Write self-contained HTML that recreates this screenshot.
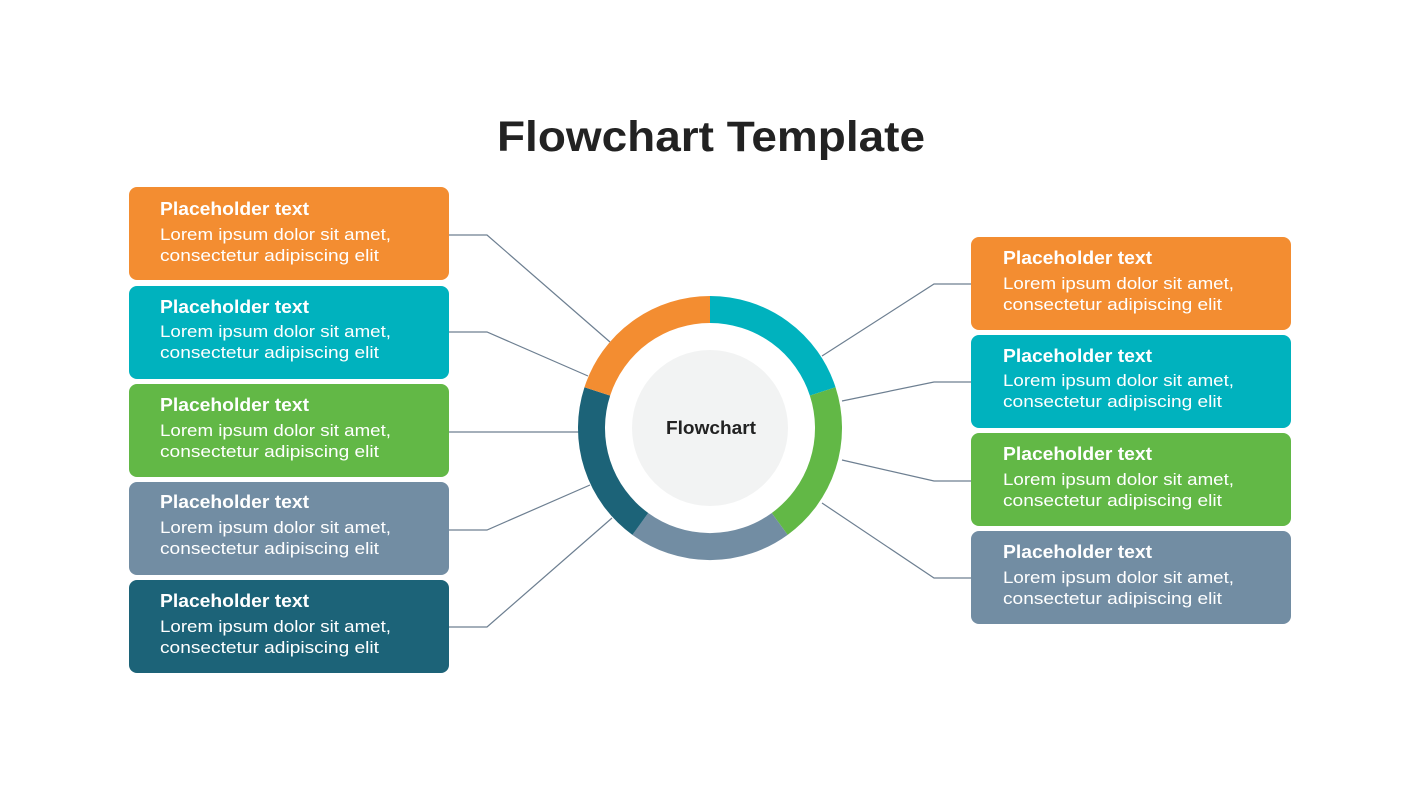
<!DOCTYPE html>
<html><head><meta charset="utf-8"><style>
html,body{margin:0;padding:0;background:#fff;}
svg{display:block;}
text{font-family:"Liberation Sans",sans-serif;}
.t{font-size:18px;font-weight:bold;fill:#fff;}
.b{font-size:17px;fill:#fff;}
</style></head><body>
<svg width="1422" height="800" viewBox="0 0 1422 800" xmlns="http://www.w3.org/2000/svg">
<defs>
<g id="tx">
</g>
</defs>
<rect width="1422" height="800" fill="#fff"/>
<text x="497" y="151" font-size="43" font-weight="bold" fill="#222" textLength="428" lengthAdjust="spacingAndGlyphs">Flowchart Template</text>
<g fill="none" stroke="#6d7f91" stroke-width="1.2">
<polyline points="449,235 487,235 610,342"/>
<polyline points="449,332 487,332 588,376"/>
<polyline points="449,432 580,432"/>
<polyline points="449,530 487,530 590,485"/>
<polyline points="449,627 487,627 612,518"/>
<polyline points="971,284 934,284 822,356"/>
<polyline points="971,382 934,382 842,401"/>
<polyline points="971,481 934,481 842,460"/>
<polyline points="971,578 934,578 822,503"/>
</g>
<g fill="none" stroke-width="27">
<path d="M710,309.5 A118.5,118.5 0 0 1 822.7,391.4" stroke="#00B2BE"/>
<path d="M822.7,391.4 A118.5,118.5 0 0 1 779.7,523.9" stroke="#62B846"/>
<path d="M779.7,523.9 A118.5,118.5 0 0 1 640.3,523.9" stroke="#728DA3"/>
<path d="M640.3,523.9 A118.5,118.5 0 0 1 597.3,391.4" stroke="#1C6378"/>
<path d="M597.3,391.4 A118.5,118.5 0 0 1 710,309.5" stroke="#F38D31"/>
</g>
<circle cx="710" cy="428" r="78" fill="#F2F3F3"/>
<text x="666" y="434" font-size="18" font-weight="bold" fill="#222" textLength="90" lengthAdjust="spacingAndGlyphs">Flowchart</text>
<g>
<rect x="129" y="187" width="320" height="93" rx="8" fill="#F38D31"/>
<text class="t" x="160" y="215" textLength="149" lengthAdjust="spacingAndGlyphs">Placeholder text</text><text class="b" x="160" y="240" textLength="231" lengthAdjust="spacingAndGlyphs">Lorem ipsum dolor sit amet,</text><text class="b" x="160" y="261" textLength="219" lengthAdjust="spacingAndGlyphs">consectetur adipiscing elit</text>
<rect x="129" y="286" width="320" height="93" rx="8" fill="#00B2BE"/>
<text class="t" x="160" y="313" textLength="149" lengthAdjust="spacingAndGlyphs">Placeholder text</text><text class="b" x="160" y="337" textLength="231" lengthAdjust="spacingAndGlyphs">Lorem ipsum dolor sit amet,</text><text class="b" x="160" y="358" textLength="219" lengthAdjust="spacingAndGlyphs">consectetur adipiscing elit</text>
<rect x="129" y="384" width="320" height="93" rx="8" fill="#62B846"/>
<text class="t" x="160" y="411" textLength="149" lengthAdjust="spacingAndGlyphs">Placeholder text</text><text class="b" x="160" y="436" textLength="231" lengthAdjust="spacingAndGlyphs">Lorem ipsum dolor sit amet,</text><text class="b" x="160" y="457" textLength="219" lengthAdjust="spacingAndGlyphs">consectetur adipiscing elit</text>
<rect x="129" y="482" width="320" height="93" rx="8" fill="#728DA3"/>
<text class="t" x="160" y="508" textLength="149" lengthAdjust="spacingAndGlyphs">Placeholder text</text><text class="b" x="160" y="533" textLength="231" lengthAdjust="spacingAndGlyphs">Lorem ipsum dolor sit amet,</text><text class="b" x="160" y="554" textLength="219" lengthAdjust="spacingAndGlyphs">consectetur adipiscing elit</text>
<rect x="129" y="580" width="320" height="93" rx="8" fill="#1C6378"/>
<text class="t" x="160" y="607" textLength="149" lengthAdjust="spacingAndGlyphs">Placeholder text</text><text class="b" x="160" y="632" textLength="231" lengthAdjust="spacingAndGlyphs">Lorem ipsum dolor sit amet,</text><text class="b" x="160" y="653" textLength="219" lengthAdjust="spacingAndGlyphs">consectetur adipiscing elit</text>

<rect x="971" y="237" width="320" height="93" rx="8" fill="#F38D31"/>
<text class="t" x="1003" y="264" textLength="149" lengthAdjust="spacingAndGlyphs">Placeholder text</text><text class="b" x="1003" y="289" textLength="231" lengthAdjust="spacingAndGlyphs">Lorem ipsum dolor sit amet,</text><text class="b" x="1003" y="310" textLength="219" lengthAdjust="spacingAndGlyphs">consectetur adipiscing elit</text>
<rect x="971" y="335" width="320" height="93" rx="8" fill="#00B2BE"/>
<text class="t" x="1003" y="362" textLength="149" lengthAdjust="spacingAndGlyphs">Placeholder text</text><text class="b" x="1003" y="386" textLength="231" lengthAdjust="spacingAndGlyphs">Lorem ipsum dolor sit amet,</text><text class="b" x="1003" y="407" textLength="219" lengthAdjust="spacingAndGlyphs">consectetur adipiscing elit</text>
<rect x="971" y="433" width="320" height="93" rx="8" fill="#62B846"/>
<text class="t" x="1003" y="460" textLength="149" lengthAdjust="spacingAndGlyphs">Placeholder text</text><text class="b" x="1003" y="485" textLength="231" lengthAdjust="spacingAndGlyphs">Lorem ipsum dolor sit amet,</text><text class="b" x="1003" y="506" textLength="219" lengthAdjust="spacingAndGlyphs">consectetur adipiscing elit</text>
<rect x="971" y="531" width="320" height="93" rx="8" fill="#728DA3"/>
<text class="t" x="1003" y="558" textLength="149" lengthAdjust="spacingAndGlyphs">Placeholder text</text><text class="b" x="1003" y="583" textLength="231" lengthAdjust="spacingAndGlyphs">Lorem ipsum dolor sit amet,</text><text class="b" x="1003" y="604" textLength="219" lengthAdjust="spacingAndGlyphs">consectetur adipiscing elit</text>
</g>
</svg>
</body></html>
